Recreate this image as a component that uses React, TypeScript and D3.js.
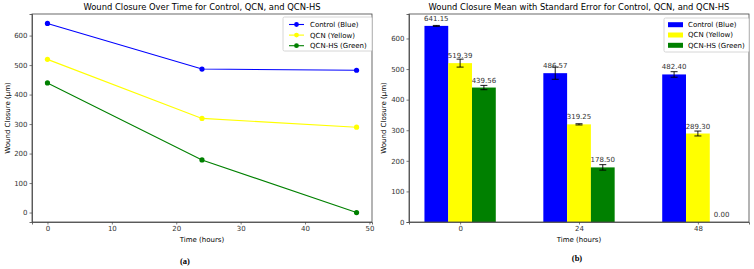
import * as d3 from 'd3';
import React, { useRef, useEffect } from 'react';

// data
const times = [0, 24, 48];
const seriesNames = ['Control (Blue)', 'QCN (Yellow)', 'QCN-HS (Green)'];
const seriesColors = ['#0000ff', '#ffff00', '#008000'];
const controlMeans = [641.15, 486.57, 482.4];
const qcnMeans = [519.39, 319.25, 289.3];
const qcnHsMeans = [439.56, 178.5, 0.0];
const controlErr = [1.5, 20, 9];
const qcnErr = [13, 2, 8];
const qcnHsErr = [7, 9, 0];
const lineXTicks = [0, 10, 20, 30, 40, 50];
const lineYTicks = [0, 100, 200, 300, 400, 500, 600];

const W = 754;
const H = 269;
const FONT = 'DejaVu Sans, sans-serif';
const AXIS = '#444';
const TXT = '#333';

const App = () => {
  const ref = useRef<SVGSVGElement>(null);

  useEffect(() => {
    draw();
  }, []);

  const draw = () => {
    const svg = d3.select(ref.current);
    svg.selectAll('*').remove();
    const means = [controlMeans, qcnMeans, qcnHsMeans];
    const errs = [controlErr, qcnErr, qcnHsErr];

    // ---------- (a) line chart ----------
    const a = { left: 32, right: 372, top: 14, bottom: 222 };
    const xA = d3.scaleLinear().domain([-2.4, 50.4]).range([a.left, a.right]);
    const yA = d3.scaleLinear().domain([-32.06, 673.2]).range([a.bottom, a.top]);

    const gA = svg.append('g');
    gA.append('g')
      .attr('transform', `translate(0,${a.bottom})`)
      .call(d3.axisBottom(xA).tickValues(lineXTicks).tickSize(2.5).tickPadding(2).tickFormat(d3.format('d')));
    gA.append('g')
      .attr('transform', `translate(${a.left},0)`)
      .call(d3.axisLeft(yA).tickValues(lineYTicks).tickSize(2.5).tickPadding(2).tickFormat(d3.format('d')));

    const line = d3.line<number>().x((d, i) => xA(times[i])).y(d => yA(d));
    means.forEach((vals, si) => {
      gA.append('path')
        .attr('d', line(vals))
        .attr('fill', 'none')
        .attr('stroke', seriesColors[si])
        .attr('stroke-width', 1.1);
      gA.selectAll(null)
        .data(vals)
        .enter()
        .append('circle')
        .attr('cx', (d, i) => xA(times[i]))
        .attr('cy', d => yA(d))
        .attr('r', 2.6)
        .attr('fill', seriesColors[si]);
    });
    gA.append('rect')
      .attr('x', a.left).attr('y', a.top)
      .attr('width', a.right - a.left).attr('height', a.bottom - a.top)
      .attr('fill', 'none').attr('stroke', AXIS).attr('stroke-width', 0.8);

    gA.append('text').attr('x', (a.left + a.right) / 2).attr('y', 10)
      .attr('text-anchor', 'middle').attr('font-size', 8.4)
      .text('Wound Closure Over Time for Control, QCN, and QCN-HS');
    gA.append('text').attr('x', (a.left + a.right) / 2).attr('y', 242)
      .attr('text-anchor', 'middle').attr('font-size', 7)
      .text('Time (hours)');
    gA.append('text').attr('transform', `translate(9.5,${(a.top + a.bottom) / 2}) rotate(-90)`)
      .attr('text-anchor', 'middle').attr('font-size', 7)
      .text('Wound Closure (μm)');

    // legend (a)
    const la = gA.append('g').attr('transform', 'translate(283,17)');
    la.append('rect').attr('width', 89).attr('height', 34).attr('rx', 1.5)
      .attr('fill', 'white').attr('stroke', '#ccc').attr('stroke-width', 0.8);
    seriesNames.forEach((name, i) => {
      const yy = 7.5 + i * 10.6;
      la.append('line').attr('x1', 6).attr('x2', 21).attr('y1', yy).attr('y2', yy)
        .attr('stroke', seriesColors[i]).attr('stroke-width', 1.1);
      la.append('circle').attr('cx', 13.5).attr('cy', yy).attr('r', 2.4).attr('fill', seriesColors[i]);
      la.append('text').attr('x', 27).attr('y', yy + 2.5).attr('font-size', 7).text(name);
    });

    // ---------- (b) grouped bars ----------
    const b = { left: 409, right: 749, top: 14, bottom: 222 };
    const x0 = d3.scaleBand<number>().domain(times).range([0, 3]);
    const xB = d3.scaleLinear().domain([-0.43, 2.43]).range([b.left, b.right]);
    const yB = d3.scaleLinear().domain([0, 680]).range([b.bottom, b.top]);
    const barW = 0.2;
    const pos = (ti: number, si: number) => (x0(times[ti]) as number) + (si - 1) * barW;

    const gB = svg.append('g');
    means.forEach((vals, si) => {
      vals.forEach((v, ti) => {
        const cx = pos(ti, si);
        gB.append('rect')
          .attr('x', xB(cx - barW / 2))
          .attr('y', yB(v))
          .attr('width', xB(cx + barW / 2) - xB(cx - barW / 2))
          .attr('height', yB(0) - yB(v))
          .attr('fill', seriesColors[si]);
      });
    });
    means.forEach((vals, si) => {
      vals.forEach((v, ti) => {
        const cx = xB(pos(ti, si));
        const e = errs[si][ti];
        if (e > 0) {
          gB.append('line').attr('x1', cx).attr('x2', cx)
            .attr('y1', yB(v - e)).attr('y2', yB(v + e))
            .attr('stroke', 'black').attr('stroke-width', 0.9);
          [v - e, v + e].forEach(c => {
            gB.append('line').attr('x1', cx - 3.5).attr('x2', cx + 3.5)
              .attr('y1', yB(c)).attr('y2', yB(c))
              .attr('stroke', 'black').attr('stroke-width', 0.9);
          });
        }
        gB.append('text').attr('x', cx).attr('y', yB(v) - 5)
          .attr('text-anchor', 'middle').attr('font-size', 7).attr('fill', TXT)
          .text(d3.format('.2f')(v));
      });
    });

    gB.append('g')
      .attr('transform', `translate(0,${b.bottom})`)
      .call(d3.axisBottom(xB).tickValues([0, 1, 2]).tickSize(2.5).tickPadding(2).tickFormat((d, i) => String(times[i])));
    gB.append('g')
      .attr('transform', `translate(${b.left},0)`)
      .call(d3.axisLeft(yB).tickValues(lineYTicks).tickSize(2.5).tickPadding(2).tickFormat(d3.format('d')));
    gB.append('rect')
      .attr('x', b.left).attr('y', b.top)
      .attr('width', b.right - b.left).attr('height', b.bottom - b.top)
      .attr('fill', 'none').attr('stroke', AXIS).attr('stroke-width', 0.8);

    gB.append('text').attr('x', (b.left + b.right) / 2).attr('y', 10)
      .attr('text-anchor', 'middle').attr('font-size', 8.4)
      .text('Wound Closure Mean with Standard Error for Control, QCN, and QCN-HS');
    gB.append('text').attr('x', (b.left + b.right) / 2).attr('y', 242)
      .attr('text-anchor', 'middle').attr('font-size', 7)
      .text('Time (hours)');
    gB.append('text').attr('transform', `translate(386,${(b.top + b.bottom) / 2}) rotate(-90)`)
      .attr('text-anchor', 'middle').attr('font-size', 7)
      .text('Wound Closure (μm)');

    // legend (b)
    const lb = gB.append('g').attr('transform', 'translate(664,18)');
    lb.append('rect').attr('width', 85).attr('height', 34).attr('rx', 1.5)
      .attr('fill', 'white').attr('stroke', '#ccc').attr('stroke-width', 0.8);
    seriesNames.forEach((name, i) => {
      const yy = 6.5 + i * 10.3;
      lb.append('rect').attr('x', 4).attr('y', yy - 2.3).attr('width', 15).attr('height', 5)
        .attr('fill', seriesColors[i]);
      lb.append('text').attr('x', 24).attr('y', yy + 2.5).attr('font-size', 7).text(name);
    });

    // panel captions
    svg.append('text').attr('x', 185).attr('y', 264).attr('text-anchor', 'middle')
      .attr('font-family', 'Liberation Serif, serif').attr('font-weight', 'bold').attr('font-size', 8.5)
      .text('(a)');
    svg.append('text').attr('x', 577).attr('y', 261).attr('text-anchor', 'middle')
      .attr('font-family', 'Liberation Serif, serif').attr('font-weight', 'bold').attr('font-size', 8.5)
      .text('(b)');

    // axis styling
    svg.selectAll('.domain').attr('stroke', AXIS).attr('stroke-width', 0.8);
    svg.selectAll('.tick line').attr('stroke', AXIS).attr('stroke-width', 0.7);
    svg.selectAll('.tick text').attr('font-size', 7).attr('fill', TXT).attr('font-family', FONT);
  };

  return (
    <svg ref={ref} width={W} height={H}
      style={{ position: 'fixed', left: 0, top: 0, background: 'white', fontFamily: FONT }}>
    </svg>
  );
};

export default App;
